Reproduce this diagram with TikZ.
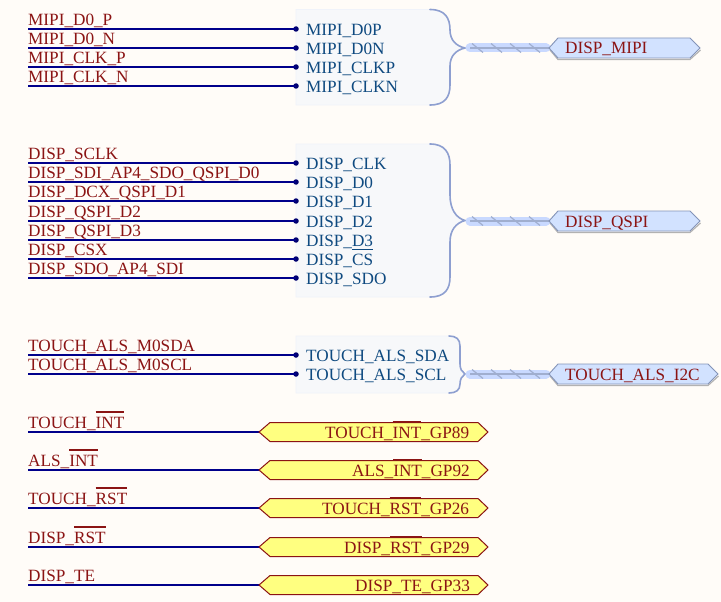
\documentclass[tikz,border=0pt]{standalone}
\usepackage{fontspec}
\setmainfont{Liberation Serif}
\usetikzlibrary{calc}
\definecolor{bgc}{HTML}{FFFCF8}
\definecolor{netred}{HTML}{8B1414}
\definecolor{pinblue}{HTML}{0F4A80}
\definecolor{wirec}{HTML}{00008B}
\definecolor{boxfill}{HTML}{F7F8FA}
\definecolor{boxedge}{HTML}{F0F3FA}
\definecolor{bracec}{HTML}{8E9FD0}
\definecolor{harnessc}{HTML}{C9D9FF}
\definecolor{harnessl}{HTML}{A0AECF}
\definecolor{portb}{HTML}{D2E2FF}
\definecolor{portbe}{HTML}{8494B8}
\definecolor{porty}{HTML}{FFFF80}
\newlength{\ovlw}
\newcommand\ovl[1]{\settowidth{\ovlw}{#1}\leavevmode\rlap{\smash{\color{netred}\rule[14.6pt]{\ovlw}{2pt}}}#1}
\def\tdy{0}
\tikzset{
 x=1pt,y=-1pt,
 txt/.style={font=\fontsize{17.2}{17.2}\selectfont,inner sep=0pt,anchor=base west},
 netlabel/.style={txt,text=netred},
 pinlabel/.style={txt,text=pinblue},
 wire/.style={draw=wirec,line width=1.9pt},
 pindot/.style={circle,fill=wirec!80!black,inner sep=0pt,minimum size=5.5pt},
 pinbox/.style={fill=boxfill,draw=boxedge,line width=.8pt},
 bracel/.style={draw=bracec,line width=1.6pt,line cap=round},
 harness/.style={draw=harnessc,line width=9pt,line cap=round},
 harnessmid/.style={draw=harnessl,line width=1.2pt},
 tick/.style={draw=harnessl,line width=1.2pt},
 portblue/.style={fill=portb,draw=portbe,line width=.9pt},
 portshadow/.style={draw=black!30,line width=1.2pt},
 portyellow/.style={fill=porty,draw=netred,line width=1pt},
}
\newcommand\netwire[4]{%
 \coordinate (s#1) at (28,#2);
 \node[pindot] (d#1) at (296,#2) {};
 \draw[wire] (s#1) -- (d#1.center);
 \node[netlabel] (n#1) at (28,#2-4+\tdy) {#3};
 \node[pinlabel] (p#1) at (306,#2+6+\tdy) {#4};
}
\newcommand\bluehar[7]{%
 \coordinate (t#1) at (#2,#3);
 \coordinate (e#1) at (#4,#3);
 \draw[harness] ($(t#1)+(5,0)$) -- ($(e#1)+(-3,0)$);
 \draw[harnessmid] ($(t#1)+(5,0)$) -- (e#1);
 \foreach \k in {0,1,2,3} {\draw[tick] ($(t#1)+(\k*19+7,-4.5)$) -- ++(11,9);}
 \draw[portshadow] (#4+1,#3+2) -- (#4+9,#3+11.5) -- (#5-10,#3+11.5) -- (#5+.5,#3+2);
 \draw[portblue] (e#1) -- (#4+9,#3-10) -- (#5-10,#3-10) -- (#5,#3) -- (#5-10,#3+10) -- (#4+9,#3+10) -- cycle;
 \node[netlabel] (l#1) at (#7,#3+6) {#6};
}
\newcommand\yelport[5]{%
 \coordinate (a#1) at (28,#2);
 \coordinate (b#1) at (259,#2);
 \draw[wire] (a#1) -- (b#1);
 \draw[portyellow] (b#1) -- (270,#2-9.5) -- (478,#2-9.5) -- (488,#2) -- (478,#2+9.5) -- (270,#2+9.5) -- cycle;
 \node[netlabel] (m#1) at (28,#2-4) {#3};
 \node[netlabel] (q#1) at (#5,#2+6) {#4};
}
\begin{document}
\begin{tikzpicture}
\useasboundingbox (0,0) rectangle (721,602);
\fill[bgc] (0,0) rectangle (721,602);
% group 1
\def\tdy{1}
\path[pinbox] (296,9.5) -- (430,9.5) .. controls (445,9.5) and (450,18) .. (450,30) .. controls (450,40) and (456,46) .. (465,48) .. controls (456,50) and (450,56) .. (450,66) -- (450,85) .. controls (450,97) and (445,105) .. (430,105) -- (296,105) -- cycle;
\draw[bracel] (430,9.5) .. controls (445,9.5) and (450,18) .. (450,30) .. controls (450,40) and (456,46) .. (465,48) .. controls (456,50) and (450,56) .. (450,66) -- (450,85) .. controls (450,97) and (445,105) .. (430,105);
\netwire{a}{29}{MIPI\_D0\_P}{MIPI\_D0P}
\netwire{b}{48}{MIPI\_D0\_N}{MIPI\_D0N}
\netwire{c}{67}{MIPI\_CLK\_P}{MIPI\_CLKP}
\netwire{e}{86}{MIPI\_CLK\_N}{MIPI\_CLKN}
\bluehar{m}{465}{48}{549}{700}{DISP\_MIPI}{565}
% group 2
\def\tdy{0}
\path[pinbox] (296,144) -- (430,144) .. controls (445,144) and (450,153) .. (450,165) -- (450,195) .. controls (450,209) and (456,218) .. (465,220.5) .. controls (456,223) and (450,230) .. (450,242) -- (450,277) .. controls (450,289) and (445,297) .. (430,297) -- (296,297) -- cycle;
\draw[bracel] (430,144) .. controls (445,144) and (450,153) .. (450,165) -- (450,195) .. controls (450,209) and (456,218) .. (465,220.5) .. controls (456,223) and (450,230) .. (450,242) -- (450,277) .. controls (450,289) and (445,297) .. (430,297);
\netwire{f}{163}{DISP\_SCLK}{DISP\_CLK}
\netwire{g}{182}{DISP\_SDI\_AP4\_SDO\_QSPI\_D0}{DISP\_D0}
\netwire{h}{201}{DISP\_DCX\_QSPI\_D1}{DISP\_D1}
\netwire{i}{221}{DISP\_QSPI\_D2}{DISP\_D2}
\netwire{j}{240}{DISP\_QSPI\_D3}{DISP\_D3}
\netwire{k}{259}{DISP\_CSX}{DISP\_CS}
\netwire{l}{278}{DISP\_SDO\_AP4\_SDI}{DISP\_SDO}
\draw[pinblue,line width=1pt] (352,249) -- (373,249);
\bluehar{q}{465}{221}{549}{700}{DISP\_QSPI}{565}
% group 3
\path[pinbox] (296,336) -- (449,336) .. controls (456,336) and (460,339) .. (460,346) -- (460,364) .. controls (460,369) and (462,372) .. (465,374) .. controls (462,376) and (460,379) .. (460,384) .. controls (460,390) and (456,393) .. (449,393) -- (296,393) -- cycle;
\draw[bracel] (449,336) .. controls (456,336) and (460,339) .. (460,346) -- (460,364) .. controls (460,369) and (462,372) .. (465,374) .. controls (462,376) and (460,379) .. (460,384) .. controls (460,390) and (456,393) .. (449,393);
\netwire{r}{355}{TOUCH\_ALS\_M0SDA}{TOUCH\_ALS\_SDA}
\netwire{s}{374}{TOUCH\_ALS\_M0SCL}{TOUCH\_ALS\_SCL}
\bluehar{t}{465}{374}{549}{718}{TOUCH\_ALS\_I2C}{565}
% bottom ports
\yelport{u}{432}{TOUCH\_\ovl{INT}}{TOUCH\_\ovl{INT}\_GP89}{325}
\yelport{v}{470}{ALS\_\ovl{INT}}{ALS\_\ovl{INT}\_GP92}{352}
\yelport{w}{508}{TOUCH\_\ovl{RST}}{TOUCH\_\ovl{RST}\_GP26}{322}
\yelport{x}{547}{DISP\_\ovl{RST}}{DISP\_\ovl{RST}\_GP29}{344}
\yelport{y}{585}{DISP\_TE}{DISP\_TE\_GP33}{355}
\end{tikzpicture}
\end{document}
